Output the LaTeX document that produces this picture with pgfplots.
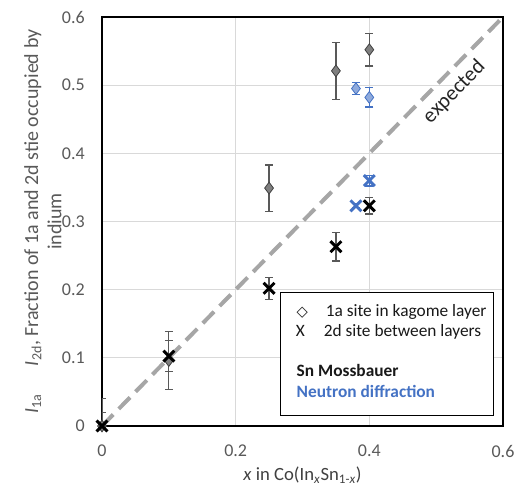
\documentclass[border=0pt]{standalone}
\usepackage{pgfplots}
\pgfplotsset{compat=1.18}
\usepackage{fontspec}
\setmainfont{Carlito}
\newfontfamily\dejavu{DejaVu Sans}
\definecolor{tickgray}{HTML}{595959}
\definecolor{gridgray}{HTML}{D9D9D9}
\definecolor{dashgray}{HTML}{A6A6A6}
\definecolor{nblue}{HTML}{4472C4}
\definecolor{nbluefill}{HTML}{8FAADC}
\definecolor{mgray}{HTML}{7F7F7F}
\definecolor{mdark}{HTML}{404040}
\begin{document}
\begin{tikzpicture}[font=\fontsize{13.5}{16}\selectfont]
\begin{axis}[
  width=300.75pt, height=306.75pt, scale only axis,
  xmin=0, xmax=0.6, ymin=0, ymax=0.6,
  xtick={0,0.2,0.4,0.6}, ytick={0,0.1,0.2,0.3,0.4,0.5,0.6},
  major tick length=0pt,
  /pgf/number format/assume math mode=true,
  /pgf/number format/fixed,
  tick label style={color=tickgray, font=\fontsize{13.5}{16}\selectfont},
  yticklabel style={anchor=east, inner sep=0pt, xshift=-12.75pt},
  xticklabel style={anchor=north, inner sep=0pt, yshift=-14.25pt},
  xmajorgrids, ymajorgrids,
  grid style={gridgray, line width=0.9pt},
  axis line style={black, line width=1.2pt},
  xlabel={\textit{x} in Co(In\textsubscript{\textit{x}}Sn\textsubscript{1-\textit{x}})},
  xlabel style={at={(axis description cs:0.5,-0.1)}, anchor=north, inner sep=0pt, color=mdark, font=\fontsize{14}{16}\selectfont},
  ylabel={\textit{I}\textsubscript{1a}\hspace{1.4em}\textit{I}\textsubscript{2d}, Fraction of 1a and 2d stie occupied by\\indium},
  ylabel style={at={(axis description cs:-0.1,0.5)}, anchor=south, inner sep=0pt, align=center, color=tickgray, font=\fontsize{15}{17.5}\selectfont},
]
% expected line
\addplot[dashgray, line width=3pt, dash pattern=on 12pt off 6pt, forget plot] coordinates {(0,0) (0.6,0.6)};
% Neutron diffraction, 1a (diamonds)
\addplot[only marks, mark=diamond*, mark size=4.4pt,
  mark options={fill=nbluefill, draw=nblue, line width=0.6pt},
  error bars/.cd, y dir=both, y explicit,
  error bar style={color=nblue, line width=0.9pt},
  error mark options={rotate=90, mark size=3pt, line width=0.9pt, color=nblue}]
  coordinates {(0.38,0.495) +- (0,0.009) (0.4,0.482) +- (0,0.014)};
% Neutron diffraction, 2d (x)
\addplot[only marks, mark=x, mark size=5.8pt,
  mark options={draw=nblue, line width=2.2pt},
  error bars/.cd, y dir=both, y explicit,
  error bar style={color=nblue, line width=0.9pt},
  error mark options={rotate=90, mark size=3pt, line width=0.9pt, color=nblue}]
  coordinates {(0.38,0.323) +- (0,0.003) (0.4,0.36) +- (0,0.008)};
% Sn Mossbauer, 1a (diamonds)
\addplot[only marks, mark=diamond*, mark size=4.4pt,
  mark options={fill=mgray, draw=mdark, line width=0.6pt},
  error bars/.cd, y dir=both, y explicit,
  error bar style={color=tickgray, line width=0.9pt},
  error mark options={rotate=90, mark size=3pt, line width=0.9pt, color=tickgray}]
  coordinates {(0,0) +- (0,0.04) (0.1,0.096) +- (0,0.043) (0.25,0.349) +- (0,0.034) (0.35,0.521) +- (0,0.042) (0.4,0.552) +- (0,0.024)};
% Sn Mossbauer, 2d (x)
\addplot[only marks, mark=x, mark size=5.8pt,
  mark options={draw=black, line width=2.2pt},
  error bars/.cd, y dir=both, y explicit,
  error bar style={color=tickgray, line width=0.9pt},
  error mark options={rotate=90, mark size=3pt, line width=0.9pt, color=tickgray}]
  coordinates {(0,0) +- (0,0.02) (0.1,0.1025) +- (0,0.0225) (0.25,0.202) +- (0,0.016) (0.35,0.263) +- (0,0.021) (0.4,0.323) +- (0,0.012)};
\node[rotate=45.5, font=\fontsize{16}{18}\selectfont, color=black!85] at (axis cs:0.527,0.49) {expected};
% legend box
\draw[black, line width=1pt, fill=white] (axis cs:0.267,0.0157) rectangle (axis cs:0.586,0.1956);
\begin{scope}[every node/.style={anchor=base west, inner sep=0pt, font=\fontsize{13}{15}\selectfont, color=black!90}]
\node[anchor=base] at (axis cs:0.2996,0.1613) {\dejavu\fontsize{11}{13}\selectfont ◇};
\node at (axis cs:0.3345,0.1613) {1a site in kagome layer};
\node[anchor=base] at (axis cs:0.297,0.1319) {X};
\node at (axis cs:0.3315,0.1319) {2d site between layers};
\node at (axis cs:0.291,0.0721) {\textbf{Sn Mossbauer}};
\node[color=nblue] at (axis cs:0.291,0.0422) {\textbf{Neutron diffraction}};
\end{scope}
\end{axis}
\pgfresetboundingbox
\path (-76.5pt,-48.75pt) rectangle (309.75pt,319.5pt);
\end{tikzpicture}
\end{document}
